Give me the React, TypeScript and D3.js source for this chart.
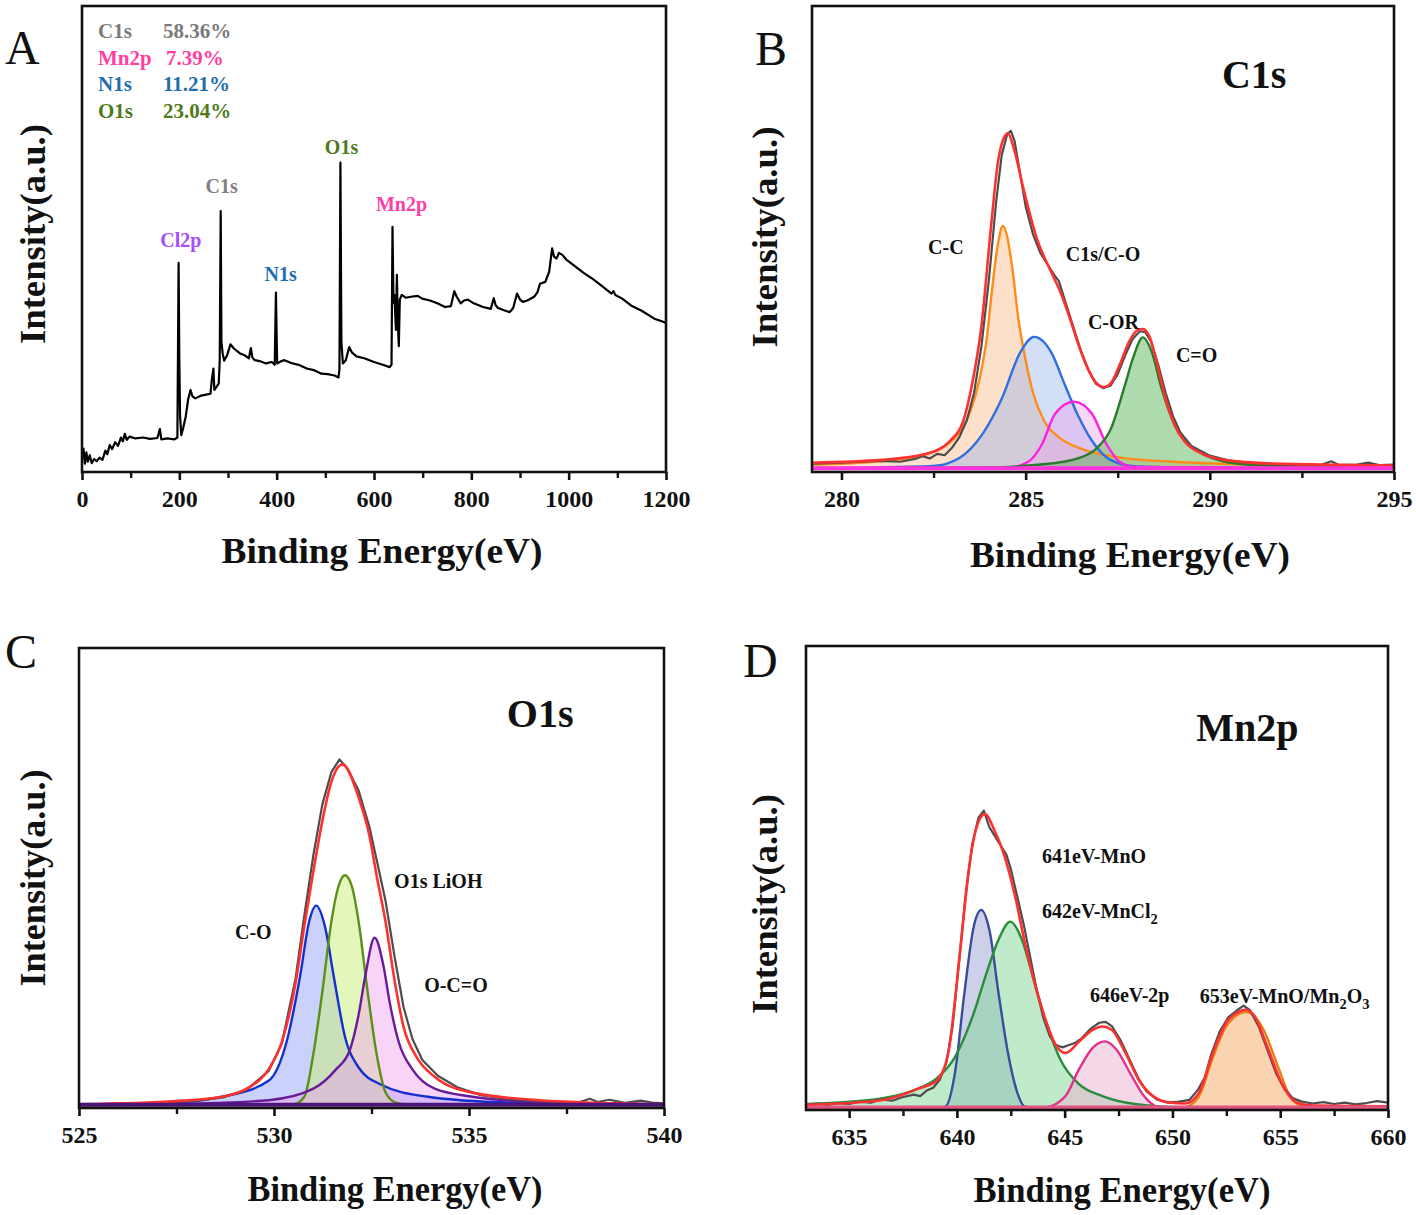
import React, { useEffect, useRef } from 'react';
import * as d3 from 'd3';

type Pt = [number, number];

const FONT = '"Liberation Serif", "Times New Roman", Times, serif';

// ---------- A: survey scan ----------
const surveyTicks = [0, 200, 400, 600, 800, 1000, 1200];
const surveyMinor = [100, 300, 500, 700, 900, 1100];
const surveyScan: Pt[] = [
  [0, 2.6], [3, 5.0], [6, 1.8], [9, 4.2], [12, 2.2], [16, 3.6], [20, 1.9], [25, 2.8], [30, 2.3], [36, 3.1],
  [42, 2.6], [48, 4.6], [52, 3.8], [57, 5.8], [62, 4.9], [68, 6.4], [74, 5.6], [80, 7.4], [84, 6.6], [88, 8.2],
  [92, 6.9], [98, 7.6], [110, 7.2], [125, 7.4], [140, 7.1], [155, 7.3], [160, 9.2], [163, 7.0], [175, 7.2], [190, 7.0],
  [196, 7.4], [198.5, 44.9], [200, 24], [201.5, 12], [204, 7.9], [208, 9.5], [213, 11.8], [218, 15.5], [223, 17.6], [227, 16.2],
  [233, 15.8], [245, 16.4], [255, 16.6], [264, 16.8], [267, 20], [270, 22.2], [272, 17.6], [276, 18.2], [281, 19.0], [283, 24],
  [285, 56], [286.5, 28], [289, 25.5], [292, 23.9], [298, 25], [305, 27.4], [312, 26.5], [324, 25.5], [335, 25], [343, 24.4],
  [347, 26.6], [350, 24.6], [355, 24], [365, 23.8], [378, 23.3], [390, 23.6], [396, 23.0], [398.5, 38.5], [401, 23.3], [410, 23.8],
  [416, 24.0], [430, 23.4], [445, 23], [462, 22.2], [478, 21.8], [492, 21.1], [505, 21], [519, 20.7], [527, 20.3], [529, 22],
  [531, 66.4], [533, 28], [536, 23.3], [542, 24], [549, 26.8], [555, 25.6], [564, 24.8], [580, 24.4], [600, 23.6], [618, 23],
  [632, 22.5], [636, 23], [638, 52.6], [640, 36.3], [642, 38], [645, 30.5], [647, 42.3], [649, 32], [651, 27], [653, 37],
  [657, 38], [665, 37.4], [676, 37.6], [690, 37.8], [699, 37.2], [715, 36.8], [730, 36.2], [746, 35.4], [758, 35.6], [765, 38.8],
  [770, 37.6], [778, 36.2], [785, 36.8], [793, 37], [805, 36.2], [824, 35.4], [840, 35], [846, 37.3], [850, 35.8], [855, 35.2],
  [870, 34.6], [879, 34.3], [886, 35.2], [894, 38.3], [900, 37], [906, 36.5], [915, 36.8], [929, 37.6], [936, 38.6], [941, 40.4],
  [952, 40.8], [960, 43], [966, 48], [970, 46.2], [975, 45.8], [980, 47], [987, 46.6], [995, 45.6], [1010, 44.4], [1030, 42.8],
  [1050, 41.4], [1070, 39.8], [1088, 38.3], [1092, 38.8], [1096, 38.0], [1110, 37.2], [1130, 35.6], [1150, 34.6], [1176, 32.9], [1190, 32.4],
  [1200, 32.0],
];
const surveyPeakNames = ['Cl2p', 'C1s', 'N1s', 'O1s', 'Mn2p'];
const compositionNames = ['C1s', 'Mn2p', 'N1s', 'O1s'];
const compositionPercent = [58.36, 7.39, 11.21, 23.04];

// ---------- B: C1s ----------
const c1sTicks = [280, 285, 290, 295];
const c1sMinor = [282.5, 287.5, 292.5];
const c1sRaw: Pt[] = [
  [279.2, 1.8], [280, 2.0], [281, 2.4], [281.6, 2.2], [282, 2.8], [282.2, 3.4], [282.4, 2.9], [282.6, 3.9], [282.8, 3.6], [283, 5.2],
  [283.2, 7.5], [283.4, 11], [283.6, 17], [283.8, 27], [284.0, 41], [284.2, 58], [284.35, 68], [284.5, 72.5], [284.6, 73.2], [284.7, 71],
  [284.85, 64], [285.0, 57], [285.2, 51], [285.4, 47], [285.6, 44.5], [285.8, 42], [285.9, 41], [286.1, 36], [286.3, 31], [286.5, 26],
  [286.7, 22], [286.9, 19], [287.1, 18], [287.3, 18.5], [287.5, 21], [287.7, 25], [287.9, 28.5], [288.1, 30.2], [288.25, 30.0], [288.4, 28],
  [288.6, 23], [288.8, 17], [289.0, 12], [289.2, 8.5], [289.5, 5.6], [290, 3.5], [290.5, 2.5], [291, 2.0], [292, 1.6], [293, 1.5],
  [293.3, 2.3], [293.5, 1.5], [294, 1.6], [294.3, 2.0], [294.6, 1.5], [295, 1.6],
];
const c1sEnvelope: Pt[] = [
  [279.2, 2.0], [281.1, 2.6], [282.3, 3.9], [282.95, 6.7], [283.3, 10.8], [283.55, 19], [283.8, 31.3], [284.05, 51.8], [284.25, 66.6], [284.38, 71.1],
  [284.52, 72.7], [284.68, 69.4], [284.94, 60.8], [285.3, 50.2], [285.7, 42.8], [285.94, 38.7], [286.2, 33], [286.44, 27.2], [286.68, 22.3], [286.93, 19],
  [287.12, 18.2], [287.31, 19], [287.56, 23.1], [287.81, 28], [288.05, 30.5], [288.18, 30.7], [288.37, 28.9], [288.55, 23.9], [288.8, 15.7], [289.05, 10],
  [289.3, 6.7], [289.8, 3.9], [290.4, 2.6], [291.7, 1.8], [295, 1.4],
];
const c1sCC: Pt[] = [
  [279.2, 1.6], [280.5, 2.0], [281.5, 2.6], [282.3, 3.8], [282.8, 5.5], [283.2, 8.5], [283.5, 13], [283.75, 20], [283.95, 29], [284.1, 40],
  [284.25, 49], [284.38, 52.8], [284.5, 50.5], [284.65, 43], [284.8, 33], [285.0, 24], [285.2, 17], [285.5, 11], [285.9, 7.5], [286.5, 5],
  [287.5, 3.2], [289, 2.2], [292, 1.5], [295, 1.2],
];
const c1sCOR: Pt[] = [
  [279.2, 0.8], [282.5, 1.3], [283.2, 3.0], [283.85, 8.4], [284.35, 15.7], [284.85, 25.6], [285.23, 29.0], [285.7, 25.6], [286.05, 19], [286.4, 12.5],
  [286.8, 6.7], [287.3, 2.6], [288, 1.2], [290, 0.9], [295, 0.8],
];
const c1sCO: Pt[] = [
  [279.2, 0.8], [284.5, 0.9], [285.07, 2.2], [285.44, 5.9], [285.8, 12.5], [286.31, 15.1], [286.8, 12.5], [287.2, 5.9], [287.55, 2.2], [287.95, 1.1],
  [295, 0.8],
];
const c1sCdO: Pt[] = [
  [279.2, 0.8], [284, 1.0], [285.4, 1.6], [286.44, 3.0], [286.93, 5.1], [287.31, 9.2], [287.68, 18.2], [287.93, 24.8], [288.18, 28.9], [288.43, 25.6],
  [288.68, 18.2], [289.05, 10], [289.42, 5.9], [289.8, 3.9], [290.42, 2.2], [291.04, 1.6], [292.5, 1.1], [295, 0.9],
];
const c1sLabels = ['C-C', 'C1s/C-O', 'C-OR', 'C=O'];

// ---------- C: O1s ----------
const o1sTicks = [525, 530, 535, 540];
const o1sMinor = [527.5, 532.5, 537.5];
const o1sRaw: Pt[] = [
  [525, 0.6], [526, 0.9], [527, 1.1], [528, 1.6], [528.7, 2.3], [529.3, 4.0], [529.86, 8.0], [530.2, 14], [530.55, 28], [530.78, 42],
  [531.01, 55], [531.24, 66], [531.47, 73], [531.68, 75.8], [531.9, 73.5], [532.17, 69], [532.45, 61], [532.63, 54], [532.86, 45], [533.09, 33],
  [533.32, 22], [533.55, 15], [533.8, 10.5], [534.2, 7], [534.7, 4.5], [535.3, 2.8], [536, 2.0], [537, 1.4], [537.8, 1.2], [538.1, 2.0],
  [538.3, 1.3], [538.6, 1.8], [539, 1.1], [539.4, 1.6], [539.7, 1.2], [540, 1.0],
];
const o1sEnvelope: Pt[] = [
  [525, 0.8], [527.5, 1.5], [528.7, 2.5], [529.3, 4.2], [529.86, 8.4], [530.2, 14.3], [530.55, 27], [530.78, 39.7], [531.01, 51.5], [531.24, 62.4],
  [531.47, 70.9], [531.76, 74.7], [532.17, 67.5], [532.45, 59.1], [532.63, 50.6], [532.86, 40.5], [533.09, 27.8], [533.32, 17.7], [533.66, 11], [534.12, 6.8],
  [535.05, 3.4], [536.8, 1.7], [540, 0.8],
];
const o1sCO: Pt[] = [
  [525, 0.7], [527.56, 1.3], [528.7, 2.5], [529.86, 5.9], [530.32, 14.3], [530.67, 28.7], [530.9, 40.5], [531.08, 44], [531.3, 39.7], [531.53, 28.7],
  [531.82, 15.5], [532.17, 8.8], [532.74, 5.1], [533.9, 2.5], [536, 1.2], [540, 0.8],
];
const o1sLiOH: Pt[] = [
  [525, 0.6], [530.5, 0.8], [530.78, 2.5], [531.01, 11.8], [531.24, 25.3], [531.47, 40.5], [531.65, 48.1], [531.82, 50.6], [532, 48.1], [532.17, 40.5],
  [532.4, 25.3], [532.63, 11.8], [532.86, 3.4], [533.09, 1.3], [533.4, 0.8], [540, 0.6],
];
const o1sOCO: Pt[] = [
  [525, 0.7], [528, 1.0], [529.86, 1.7], [531.01, 4.2], [531.59, 8.4], [531.94, 12.5], [532.17, 20.3], [532.34, 28.7], [532.58, 37], [532.8, 31.2],
  [532.97, 22.8], [533.2, 14.3], [533.55, 8.4], [534.12, 4.2], [535.05, 2.5], [536.77, 1.3], [540, 0.8],
];
const o1sLabels = ['O1s LiOH', 'C-O', 'O-C=O'];

// ---------- D: Mn2p ----------
const mn2pTicks = [635, 640, 645, 650, 655, 660];
const mn2pMinor = [637.5, 642.5, 647.5, 652.5, 657.5];
const mn2pRaw: Pt[] = [
  [633, 1.0], [633.5, 1.4], [634, 1.1], [634.5, 1.5], [635, 1.3], [635.5, 1.8], [636, 1.6], [636.5, 2.3], [637, 2.0], [637.5, 2.8],
  [638, 3.3], [638.3, 3.0], [638.6, 4.2], [638.9, 4.8], [639.2, 6.5], [639.5, 10], [639.8, 18], [640.1, 32], [640.4, 46], [640.7, 57],
  [641.0, 63], [641.25, 64.5], [641.5, 61], [641.7, 59.5], [641.9, 58], [642.1, 56.5], [642.3, 55], [642.5, 52], [642.8, 46], [643.1, 40],
  [643.4, 33], [643.7, 26], [644.0, 20], [644.3, 16], [644.6, 14], [644.9, 13.5], [645.2, 14], [645.5, 14.5], [645.8, 15.5], [646.2, 17.5],
  [646.6, 18.8], [646.9, 19], [647.2, 18], [647.6, 15], [648, 11], [648.4, 7], [648.8, 4], [649.3, 2.2], [649.8, 1.6], [650.3, 1.8],
  [650.8, 2.2], [651.2, 4.5], [651.5, 7], [651.8, 12], [652.2, 17], [652.6, 20], [653.0, 21.5], [653.3, 22.5], [653.6, 21.5], [654.0, 18],
  [654.4, 13], [654.8, 8], [655.2, 4.5], [655.6, 2.5], [656, 1.8], [656.5, 1.4], [657, 1.7], [657.5, 1.3], [658, 1.6], [658.5, 1.2],
  [659, 1.5], [659.5, 1.9], [660, 1.6],
];
const mn2pEnvelope: Pt[] = [
  [633, 1.1], [636.5, 2.1], [638.2, 4.6], [639.06, 6.3], [639.6, 12.3], [640.13, 33.4], [640.56, 52], [640.88, 60.4], [641.3, 63.8], [641.73, 60.4],
  [642.16, 55.4], [642.7, 46.1], [643.12, 36.8], [643.55, 28.3], [644.08, 19.9], [644.6, 13.9], [645.04, 12.3], [645.68, 14.8], [646.32, 17.3], [646.75, 18],
  [647.18, 17.3], [647.82, 12.3], [648.46, 6.3], [649.1, 3], [649.74, 1.7], [650.6, 1.4], [651.24, 3.8], [651.88, 12.3], [652.52, 19], [653.05, 21.1],
  [653.38, 21.6], [653.8, 20.3], [654.44, 13.1], [655.09, 5.5], [655.73, 1.7], [656.37, 1.0], [660, 0.8],
];
const mn2pMnO: Pt[] = [
  [633, 0.4], [639.2, 0.4], [639.49, 0.8], [639.91, 8], [640.34, 24.9], [640.77, 39.3], [641.13, 43.1], [641.52, 38.5], [641.94, 24.9], [642.37, 12.3],
  [642.8, 3.8], [643.12, 0.8], [643.5, 0.4], [660, 0.4],
];
const mn2pMnCl2: Pt[] = [
  [633, 1.3], [636.5, 2.5], [638.2, 4.6], [639.06, 6.8], [639.91, 11.4], [640.77, 20.7], [641.41, 30], [641.94, 36.8], [642.48, 40.6], [643.01, 36.8],
  [643.55, 28.3], [644.19, 18.2], [644.83, 10.6], [645.68, 5.5], [646.75, 3], [648.25, 1.3], [650.38, 0.6], [660, 0.4],
];
const mn2pSat: Pt[] = [
  [633, 0.4], [644, 0.4], [644.19, 0.6], [645.04, 3], [645.68, 8.9], [646.32, 13.5], [646.86, 14.8], [647.39, 13.1], [648.03, 8], [648.68, 3],
  [649.32, 0.6], [649.6, 0.4], [660, 0.4],
];
const mn2pMn2O3: Pt[] = [
  [633, 0.4], [650.3, 0.4], [650.6, 0.6], [651.24, 3], [651.88, 11.4], [652.52, 18.2], [653.42, 21.1], [654.23, 17.3], [654.87, 9.7], [655.51, 2.5],
  [656.15, 0.6], [656.5, 0.4], [660, 0.4],
];
const mn2pLabels = ['641eV-MnO', '642eV-MnCl_2', '646eV-2p', '653eV-MnO/Mn_2O_3'];

// ---------- layout & styles ----------
interface Comp { data: Pt[]; stroke: string; fill: string; opacity: number }
interface Note { text: string; at: Pt; color: string; size: number }
interface Panel {
  letter: string; letterAt: Pt;
  box: { l: number; r: number; t: number; b: number };
  domain: Pt; ticks: number[]; minor: number[];
  xTitle: { x: number; y: number; len: number };
  yTitle: { x: number; y: number; len: number };
  title?: { text: string; at: Pt };
  comps: Comp[]; raw?: Pt[]; envelope?: Pt[]; baseline?: { v: number; color: string };
  line?: Pt[];
  notes: Note[];
}

const panels: Panel[] = [
  {
    letter: 'A', letterAt: [5, 64],
    box: { l: 82, r: 666, t: 6, b: 472 },
    domain: [0, 1200], ticks: surveyTicks, minor: surveyMinor,
    xTitle: { x: 382, y: 563, len: 321 }, yTitle: { x: 32, y: 234, len: 220 },
    comps: [], line: surveyScan,
    notes: [
      { text: surveyPeakNames[0], at: [161, 48.3], color: '#a64dff', size: 20 },
      { text: surveyPeakNames[1], at: [254, 59.9], color: '#808080', size: 20 },
      { text: surveyPeakNames[2], at: [375, 41], color: '#1f6fb0', size: 20 },
      { text: surveyPeakNames[3], at: [499, 68.2], color: '#4f7a1c', size: 20 },
      { text: surveyPeakNames[4], at: [604, 56], color: '#ff3fa4', size: 20 },
    ],
  },
  {
    letter: 'B', letterAt: [755, 65],
    box: { l: 812, r: 1394, t: 6, b: 472 },
    domain: [279.2, 295], ticks: c1sTicks, minor: c1sMinor,
    xTitle: { x: 1130, y: 567, len: 320 }, yTitle: { x: 764, y: 237, len: 221 },
    title: { text: 'C1s', at: [290.33, 82.4] },
    comps: [
      { data: c1sCC, stroke: '#ff8c1a', fill: '#f9b27a', opacity: 0.4 },
      { data: c1sCOR, stroke: '#2f6fe0', fill: '#8fb0ea', opacity: 0.4 },
      { data: c1sCO, stroke: '#ff1fe0', fill: '#e8a6ec', opacity: 0.45 },
      { data: c1sCdO, stroke: '#2c7a2c', fill: '#4cb04c', opacity: 0.45 },
    ],
    raw: c1sRaw, envelope: c1sEnvelope, baseline: { v: 0.6, color: '#ff33dd' },
    notes: [
      { text: c1sLabels[0], at: [282.35, 46.8], color: '#111', size: 20 },
      { text: c1sLabels[1], at: [286.09, 45.3], color: '#111', size: 20 },
      { text: c1sLabels[2], at: [286.69, 30.7], color: '#111', size: 20 },
      { text: c1sLabels[3], at: [289.08, 23.6], color: '#111', size: 20 },
    ],
  },
  {
    letter: 'C', letterAt: [5, 668],
    box: { l: 79, r: 664, t: 648, b: 1108 },
    domain: [525, 540], ticks: o1sTicks, minor: o1sMinor,
    xTitle: { x: 395, y: 1201, len: 295 }, yTitle: { x: 32, y: 878, len: 217 },
    title: { text: 'O1s', at: [535.97, 82.8] },
    comps: [
      { data: o1sCO, stroke: '#1230d0', fill: '#8a99f5', opacity: 0.45 },
      { data: o1sLiOH, stroke: '#5b8f18', fill: '#c8f07a', opacity: 0.5 },
      { data: o1sOCO, stroke: '#6a1b9a', fill: '#eea0f0', opacity: 0.45 },
    ],
    raw: o1sRaw, envelope: o1sEnvelope, baseline: { v: 0.5, color: '#4a1478' },
    notes: [
      { text: o1sLabels[0], at: [533.08, 47.8], color: '#111', size: 20 },
      { text: o1sLabels[1], at: [529.0, 36.7], color: '#111', size: 20 },
      { text: o1sLabels[2], at: [533.85, 25.2], color: '#111', size: 20 },
    ],
  },
  {
    letter: 'D', letterAt: [743, 677],
    box: { l: 806, r: 1388, t: 646, b: 1110 },
    domain: [633, 660], ticks: mn2pTicks, minor: mn2pMinor,
    xTitle: { x: 1122, y: 1202, len: 297 }, yTitle: { x: 764, y: 904, len: 220 },
    title: { text: 'Mn2p', at: [651.1, 79.5] },
    comps: [
      { data: mn2pMnO, stroke: '#3a4c9a', fill: '#8e96cc', opacity: 0.45 },
      { data: mn2pMnCl2, stroke: '#2a8c3a', fill: '#7fd898', opacity: 0.5 },
      { data: mn2pSat, stroke: '#e0308a', fill: '#eeb0d0', opacity: 0.5 },
      { data: mn2pMn2O3, stroke: '#e8801a', fill: '#f5b070', opacity: 0.55 },
    ],
    raw: mn2pRaw, envelope: mn2pEnvelope, baseline: { v: 0.3, color: '#e05580' },
    notes: [
      { text: mn2pLabels[0], at: [643.95, 53.2], color: '#111', size: 20 },
      { text: mn2pLabels[1], at: [643.95, 41.4], color: '#111', size: 20 },
      { text: mn2pLabels[2], at: [646.17, 23.3], color: '#111', size: 20 },
      { text: mn2pLabels[3], at: [651.27, 23.1], color: '#111', size: 20 },
    ],
  },
];

const compositionColors = ['#7a7a7a', '#ff3fa4', '#1f6fb0', '#4f7a1c'];

// text with "_2" style subscripts
function addText(g: any, text: string, x: number, y: number, size: number, color: string, weight = 'bold', anchor = 'start') {
  const t = g.append('text')
    .attr('x', x).attr('y', y)
    .attr('font-family', FONT).attr('font-size', size)
    .attr('font-weight', weight).attr('fill', color)
    .attr('text-anchor', anchor);
  const parts = text.split(/_(\d)/);
  let down = false;
  parts.forEach((p, i) => {
    if (!p) return;
    const ts = t.append('tspan').text(p);
    if (i % 2 === 1) {
      ts.attr('dy', size * 0.3).attr('font-size', size * 0.72);
      down = true;
    } else if (down) {
      ts.attr('dy', -size * 0.3);
      down = false;
    }
  });
  return t;
}

function drawPanel(svg: any, p: Panel, idx: number) {
  const { l, r, t, b } = p.box;
  const x = d3.scaleLinear().domain(p.domain).range([l, r]);
  const y = d3.scaleLinear().domain([0, 100]).range([b, t]);
  const g = svg.append('g');

  const clipId = `clip-${idx}`;
  g.append('clipPath').attr('id', clipId)
    .append('rect').attr('x', l).attr('y', t).attr('width', r - l).attr('height', b - t);
  const plot = g.append('g').attr('clip-path', `url(#${clipId})`);

  const line = d3.line<Pt>().x(d => x(d[0])).y(d => y(d[1])).curve(d3.curveMonotoneX);
  const base = p.baseline ? p.baseline.v : 0;
  const area = d3.area<Pt>().x(d => x(d[0])).y0(y(base)).y1(d => y(d[1])).curve(d3.curveMonotoneX);

  p.comps.forEach(c => {
    plot.append('path').datum(c.data).attr('d', area).attr('fill', c.fill).attr('fill-opacity', c.opacity);
  });
  p.comps.forEach(c => {
    plot.append('path').datum(c.data).attr('d', line).attr('fill', 'none')
      .attr('stroke', c.stroke).attr('stroke-width', 2.4);
  });
  if (p.raw) {
    plot.append('path').datum(p.raw).attr('d', d3.line<Pt>().x(d => x(d[0])).y(d => y(d[1])))
      .attr('fill', 'none').attr('stroke', '#4d4d4d').attr('stroke-width', 2.2).attr('stroke-linejoin', 'round');
  }
  if (p.envelope) {
    plot.append('path').datum(p.envelope).attr('d', line).attr('fill', 'none')
      .attr('stroke', '#ff3030').attr('stroke-width', 2.6);
  }
  if (p.baseline) {
    plot.append('line').attr('x1', l).attr('x2', r).attr('y1', y(base) - 1).attr('y2', y(base) - 1)
      .attr('stroke', p.baseline.color).attr('stroke-width', 4);
  }
  if (p.line) {
    plot.append('path').datum(p.line).attr('d', d3.line<Pt>().x(d => x(d[0])).y(d => y(d[1])))
      .attr('fill', 'none').attr('stroke', '#000').attr('stroke-width', 2.2).attr('stroke-linejoin', 'round');
  }

  // frame
  g.append('rect').attr('x', l).attr('y', t).attr('width', r - l).attr('height', b - t)
    .attr('fill', 'none').attr('stroke', '#111').attr('stroke-width', 2.6);

  // axis
  const minorAx = g.append('g').attr('transform', `translate(0,${b})`)
    .call(d3.axisBottom(x).tickValues(p.minor).tickSize(6).tickSizeOuter(0).tickFormat(() => ''));
  minorAx.select('.domain').remove();
  minorAx.selectAll('line').attr('stroke', '#111').attr('stroke-width', 2.4);
  const ax = g.append('g').attr('transform', `translate(0,${b})`)
    .call(d3.axisBottom(x).tickValues(p.ticks).tickSize(8).tickSizeOuter(0).tickPadding(10).tickFormat(d3.format('d')));
  ax.select('.domain').remove();
  ax.selectAll('line').attr('stroke', '#111').attr('stroke-width', 2.6);
  ax.selectAll('text').attr('font-family', FONT).attr('font-size', 24).attr('font-weight', 'bold').attr('fill', '#111');

  // titles
  addText(g, 'Binding Energy(eV)', p.xTitle.x, p.xTitle.y, 36, '#111', 'bold', 'middle')
    .attr('textLength', p.xTitle.len).attr('lengthAdjust', 'spacingAndGlyphs');
  g.append('text')
    .attr('transform', `translate(${p.yTitle.x},${p.yTitle.y}) rotate(-90)`)
    .attr('text-anchor', 'middle').attr('dy', '0.35em')
    .attr('font-family', FONT).attr('font-size', 36).attr('font-weight', 'bold').attr('fill', '#111')
    .attr('textLength', p.yTitle.len).attr('lengthAdjust', 'spacingAndGlyphs')
    .text('Intensity(a.u.)');
  addText(g, p.letter, p.letterAt[0], p.letterAt[1], 48, '#111', 'normal');
  if (p.title) addText(g, p.title.text, x(p.title.at[0]), y(p.title.at[1]), 40, '#111');

  p.notes.forEach(n => addText(g, n.text, x(n.at[0]), y(n.at[1]), n.size, n.color));

  // composition table (survey only)
  if (idx === 0) {
    compositionNames.forEach((name, i) => {
      const yy = 38 + i * 26.7;
      addText(g, name, 98, yy, 21, compositionColors[i]);
      addText(g, `${compositionPercent[i].toFixed(2)}%`, i === 1 ? 166 : 163, yy, 21, compositionColors[i]);
    });
  }
}

const App = () => {
  const ref = useRef<SVGSVGElement>(null);

  useEffect(() => {
    const svg = d3.select(ref.current);
    svg.selectAll('*').remove();
    svg.append('rect').attr('width', 1416).attr('height', 1215).attr('fill', '#fff');
    panels.forEach((p, i) => drawPanel(svg, p, i));
  }, []);

  return (
    <svg
      ref={ref}
      width={1416}
      height={1215}
      style={{ position: 'absolute', left: 0, top: 0, display: 'block' }}
    />
  );
};

export default App;
